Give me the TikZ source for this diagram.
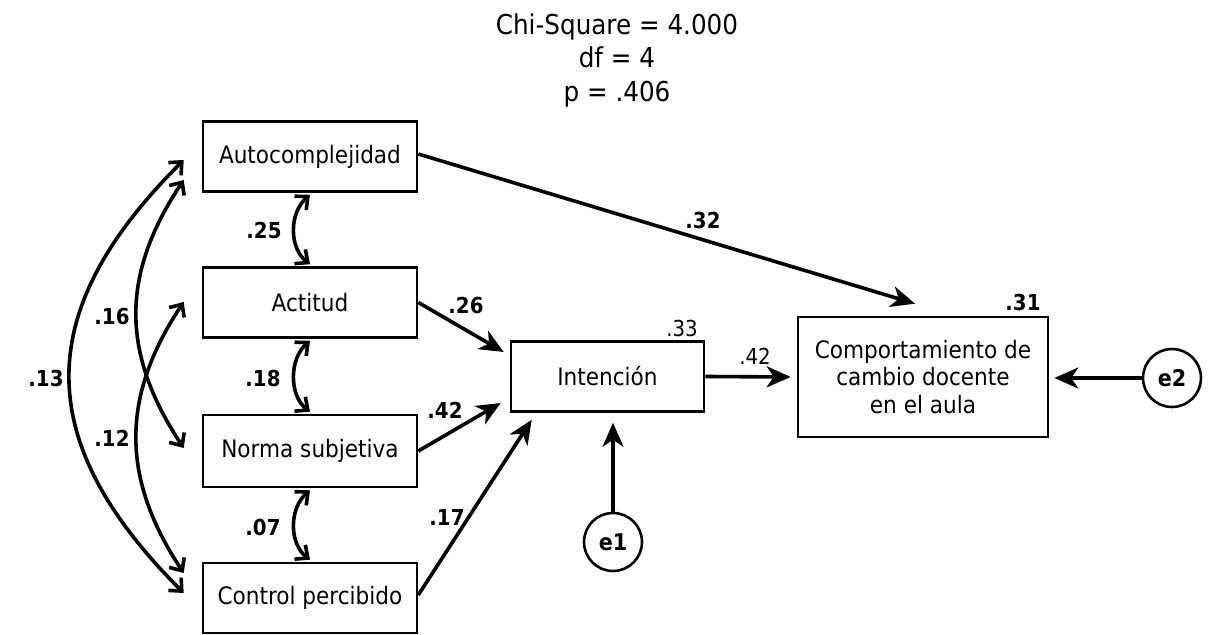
\documentclass[tikz,border=0pt]{standalone}
\usepackage{fontspec}
\setmainfont{DejaVu Sans Condensed}
\usetikzlibrary{arrows.meta,calc}
\begin{document}
\begin{tikzpicture}[x=0.5pt,y=-0.5pt,
  box/.style={draw, line width=1.3pt, minimum width=107pt, minimum height=35pt,
    inner sep=0pt, align=center, font=\fontsize{12}{13.75}\selectfont},
  err/.style={draw, circle, line width=1.3pt, minimum size=29pt, inner sep=0pt,
    font=\fontsize{11.5}{13}\selectfont\bfseries},
  effect/.style={line width=1.8pt, -{Stealth[length=12pt,width=10.5pt,inset=3.5pt]}},
  cov/.style={line width=1.8pt,
    {Straight Barb[length=5pt,width=9pt]}-{Straight Barb[length=5pt,width=9pt]}},
  coef/.style={inner sep=0pt, font=\fontsize{11}{12}\selectfont\bfseries},
  rsq/.style={inner sep=0pt, font=\fontsize{11}{12}\selectfont},
  fit/.style={inner sep=0pt, align=center, font=\fontsize{13.7}{16.75}\selectfont}]
\useasboundingbox (0,0) rectangle (1212,635);

% fit statistics
\node[fit] (stats) at (617,60) {Chi-Square = 4.000\\df = 4\\p = .406};

% observed variables
\node[box] (auto) at (310,156.5) {Autocomplejidad};
\node[box] (act)  at (310,302.5) {Actitud};
\node[box, minimum height=36pt] (norm) at (310,451) {Norma subjetiva};
\node[box] (ctrl) at (310,598) {Control percibido};
\node[box, minimum width=96.5pt] (int) at (607.5,376.5) {Intención};
\node[box, minimum width=125pt, minimum height=60pt] (comp) at (923,377)
  {Comportamiento de\\cambio docente\\en el aula};

% residuals
\node[err] (e1) at (613,542) {e1};
\node[err] (e2) at (1172,378) {e2};

% covariances between neighbouring predictors
\draw[cov] ($(auto.south)+(0,2)$) .. controls ($(auto.south)+(-21,20)$) and ($(act.north)+(-21,-18)$) .. ($(act.north)+(0,-2)$);
\draw[cov] ($(act.south)+(0,2)$) .. controls ($(act.south)+(-21,20)$) and ($(norm.north)+(-21,-18)$) .. ($(norm.north)+(0,-2)$);
\draw[cov] ($(norm.south)+(0,2)$) .. controls ($(norm.south)+(-21,20)$) and ($(ctrl.north)+(-21,-18)$) .. ($(ctrl.north)+(0,-2)$);

% long-range covariances
\draw[cov] ($(auto.west)+(-18,3.5)$) .. controls ($(auto.west)+(-170,155)$) and ($(ctrl.west)+(-170,-157)$) .. ($(ctrl.west)+(-18,-5)$);
\draw[cov] ($(auto.west)+(-18,23.5)$) .. controls ($(auto.west)+(-81,118)$) and ($(norm.west)+(-81,-98)$) .. ($(norm.west)+(-18,-3)$);
\draw[cov] ($(act.west)+(-18,-0.5)$) .. controls ($(act.west)+(-81,94)$) and ($(ctrl.west)+(-81,-120)$) .. ($(ctrl.west)+(-18,-25)$);

% direct effects
\draw[effect] (act.east) -- ($(int.west)+(-6,-24.5)$);
\draw[effect] (norm.east) -- ($(int.west)+(-9,26.5)$);
\draw[effect] ($(ctrl.east)+(0,-3)$) -- ($(int.south west)+(22,7)$);
\draw[effect] ($(auto.east)+(0,-2.5)$) -- ($(comp.north)+(-8,-12)$);
\draw[effect] (int.east) -- ($(comp.west)+(-6,0)$);
\draw[effect] (e1.north) -- ($(e1.north |- int.south)+(0,10)$);
\draw[effect] (e2.west) -- ($(e2.west -| comp.east)+(5,0)$);

% coefficients
\node[coef] (c25) at (264,230) {.25};
\node[coef] (c18) at (263,378) {.18};
\node[coef] (c07) at (263,527) {.07};
\node[coef] (c13) at (46,378) {.13};
\node[coef] (c16) at (112,317) {.16};
\node[coef] (c12) at (112,438) {.12};
\node[coef] (c26) at (466,305) {.26};
\node[coef] (c42a) at (445,410) {.42};
\node[coef] (c17) at (447,517) {.17};
\node[coef] (c32) at (703,220) {.32};
\node[rsq] (c42b) at (755,356) {.42};
\node[rsq] (r33) at (682,328) {.33};
\node[coef] (r31) at (1023,302) {.31};
\end{tikzpicture}
\end{document}
